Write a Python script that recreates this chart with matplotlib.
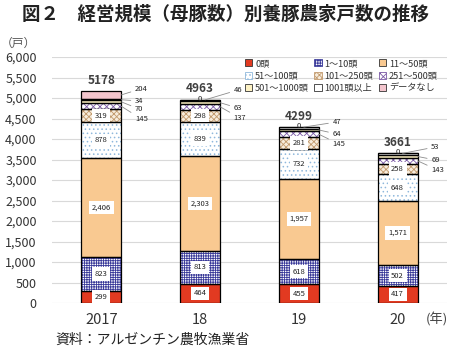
import matplotlib
matplotlib.use("Agg")
import matplotlib.pyplot as plt
from matplotlib.patches import Patch
import numpy as np

plt.rcParams['font.family'] = ['Noto Sans CJK JP', 'DejaVu Sans']
plt.rcParams['hatch.linewidth'] = 0.6

# ---------------- data ----------------
years = ['2017', '18', '19', '20']
categories = ['0頭', '1～10頭', '11～50頭', '51～100頭', '101～250頭',
              '251～500頭', '501～1000頭', '1001頭以上', 'データなし']
v_0 = [299, 464, 455, 417]
v_1_10 = [823, 813, 618, 502]
v_11_50 = [2406, 2303, 1957, 1571]
v_51_100 = [878, 839, 732, 648]
v_101_250 = [319, 298, 281, 258]
v_251_500 = [145, 137, 145, 143]
v_501_1000 = [70, 63, 64, 69]
v_1001 = [34, 46, 47, 53]
v_nodata = [204, 0, 0, 0]
totals = [5178, 4963, 4299, 3661]
series = [v_0, v_1_10, v_11_50, v_51_100, v_101_250,
          v_251_500, v_501_1000, v_1001, v_nodata]

# ---------------- styles ----------------
faces = ['#e23a21', '#ffffff', '#f9c991', '#ffffff', '#f7ecdc',
         '#ffffff', '#fdf2c4', '#ffffff', '#f3c5cd']
hatches = [None, '+++++++', None, '....', 'xxxxxx', 'xxxxx', None, None, None]
hcolors = [None, '#3a3a9a', None, '#8fb8dc', '#c29a6e', '#7b5aa6', None, None, None]

fig = plt.figure(figsize=(4.52, 3.5), dpi=100)
ax = fig.add_axes([52/452, 47/350, 395/452, 246/350])

x = np.arange(len(years))
w = 0.405
bottom = np.zeros(len(years))
bottoms = []
for k, vals in enumerate(series):
    vals = np.array(vals, dtype=float)
    bottoms.append(bottom.copy())
    if hatches[k]:
        ax.bar(x, vals, w, bottom=bottom, color=faces[k], hatch=hatches[k],
               edgecolor=hcolors[k], linewidth=0, zorder=2)
    else:
        ax.bar(x, vals, w, bottom=bottom, color=faces[k], linewidth=0, zorder=2)
    ax.bar(x, vals, w, bottom=bottom, fill=False, edgecolor='black',
           linewidth=0.9, zorder=3)
    bottom = bottom + vals

ax.set_ylim(0, 6000)
ax.set_xlim(-0.5, 3.5)
ax.set_yticks(np.arange(0, 6001, 500))
ax.yaxis.set_major_formatter(matplotlib.ticker.FuncFormatter(lambda v, p: f'{int(v):,}'))
ax.grid(axis='y', color='#d9d9d9', linewidth=0.8, zorder=0)
ax.set_axisbelow(True)
for s in ax.spines.values():
    s.set_visible(False)
ax.tick_params(axis='y', length=0, pad=11, labelsize=9, labelcolor='#333333')
ax.set_xticks(x)
ax.set_xticklabels(years)
ax.tick_params(axis='x', length=0, pad=7, labelsize=10.5, labelcolor='#333333')

# inside labels (white boxes)
for k in range(5):
    for i in range(len(years)):
        v = series[k][i]
        y = bottoms[k][i] + v / 2
        ax.text(x[i], y, f'{v:,}', ha='center', va='center', fontsize=5.5,
                color='#222222', zorder=5,
                bbox=dict(boxstyle='square,pad=0.35', fc='white', ec='none'))

# "0" on top for no-data
for i in range(len(years)):
    if v_nodata[i] == 0:
        ax.text(x[i], totals[i] + 10, '0', ha='center', va='center',
                fontsize=5.5, color='#222222', zorder=5)

# totals
for i in range(len(years)):
    ax.annotate(str(totals[i]), (x[i], totals[i]), xytext=(0, 3),
                textcoords='offset points', ha='center', va='bottom',
                fontsize=8.5, fontweight='semibold', color='#404040',
                annotation_clip=False)

# outside labels with leader lines (layout offsets relative to totals)
out_layout = {
    0: [(8, 50), (7, -250), (6, -446), (5, -690)],
    1: [(7, 232), (6, -207), (5, -451)],
    2: [(7, 116), (6, -177), (5, -421)],
    3: [(7, 144), (6, -173), (5, -417)],
}
for i, items in out_layout.items():
    for j, (k, off) in enumerate(items):
        v = series[k][i]
        ymid = bottoms[k][i] + v / 2
        ty = totals[i] + off
        tx = x[i] + 0.34
        if j == 0 and v_nodata[i] == 0:
            start = (x[i] + 0.05, ymid + 15)
        else:
            start = (x[i] + w / 2, ymid)
        ax.annotate(f'{v:,}', start, xytext=(tx, ty), textcoords='data',
                    ha='left', va='center', fontsize=5.5, color='#222222',
                    annotation_clip=False, zorder=6,
                    arrowprops=dict(arrowstyle='-', color='#8c8c8c', lw=0.6,
                                    shrinkA=1, shrinkB=0))

# legend
handles = []
for k in range(len(categories)):
    if hatches[k]:
        handles.append(Patch(facecolor=faces[k], hatch=hatches[k],
                             edgecolor=hcolors[k], linewidth=0.6, label=categories[k]))
    else:
        handles.append(Patch(facecolor=faces[k], edgecolor='#333333',
                             linewidth=0.6, label=categories[k]))
order = [0, 3, 6, 1, 4, 7, 2, 5, 8]
leg = fig.legend([handles[o] for o in order], [categories[o] for o in order],
                 ncol=3, loc='upper left', bbox_to_anchor=(245/452, 1 - 59/350),
                 fontsize=6.6, frameon=False,
                 handlelength=0.8, handleheight=0.8,
                 handletextpad=0.3, columnspacing=0.6, labelspacing=0.35,
                 borderpad=0.0, borderaxespad=0)
for t in leg.get_texts():
    t.set_color('#333333')

# texts
fig.text(0.5, 1 - 14/350, '図２　経営規模（母豚数）別養豚農家戸数の推移',
         ha='center', va='center', fontsize=13.3, fontweight='bold', color='#222222')
fig.text(18/452, 1 - 43/350, '（戸）', ha='center', va='center', fontsize=8.5,
         color='#555555')
fig.text(448/452, 1 - 320/350, '(年)', ha='right', va='center', fontsize=9.5,
         color='#444444')
fig.text(55/452, 1 - 340/350, '資料：アルゼンチン農牧漁業省', ha='left', va='center',
         fontsize=10, color='#222222')

fig.savefig('out.png', dpi=100)
